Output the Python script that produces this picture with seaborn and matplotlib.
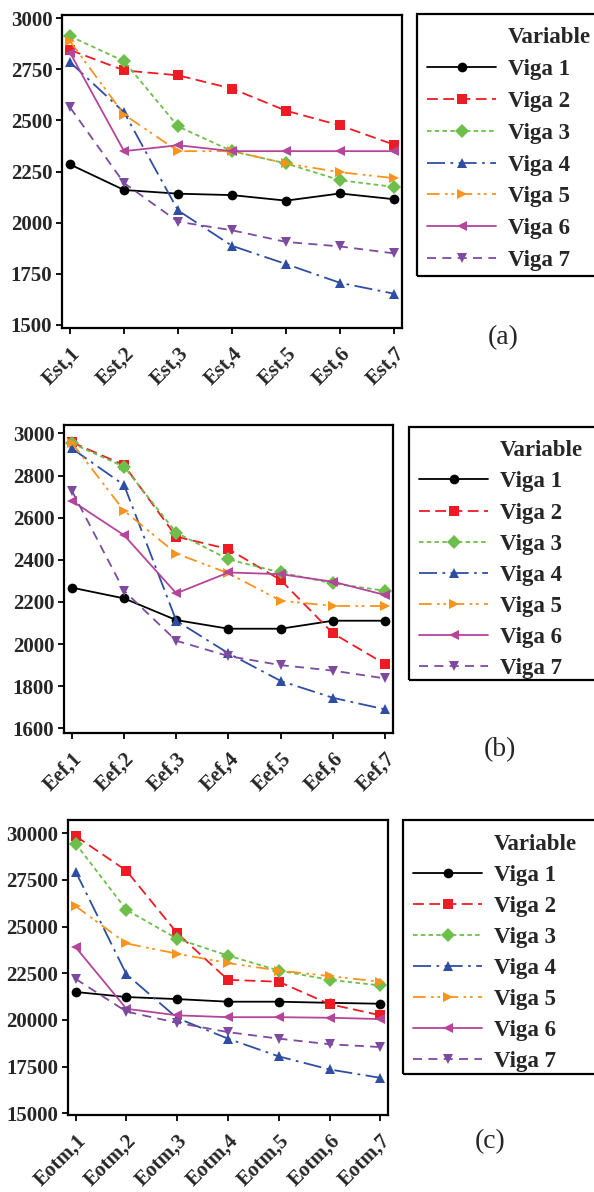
import numpy as np
import pandas as pd
import matplotlib
matplotlib.use("Agg")
import matplotlib.pyplot as plt
import seaborn as sns
from matplotlib.lines import Line2D
from matplotlib.patches import Rectangle

# ---------------- data ----------------
series = ["Viga 1", "Viga 2", "Viga 3", "Viga 4", "Viga 5", "Viga 6", "Viga 7"]

cats_a = ["Est,1", "Est,2", "Est,3", "Est,4", "Est,5", "Est,6", "Est,7"]
vals_a = {
    "Viga 1": [2285, 2160, 2142, 2135, 2108, 2143, 2115],
    "Viga 2": [2845, 2745, 2721, 2656, 2548, 2476, 2382],
    "Viga 3": [2912, 2790, 2471, 2350, 2290, 2208, 2175],
    "Viga 4": [2785, 2540, 2060, 1887, 1798, 1706, 1653],
    "Viga 5": [2887, 2529, 2350, 2350, 2290, 2247, 2218],
    "Viga 6": [2831, 2350, 2379, 2350, 2350, 2350, 2350],
    "Viga 7": [2564, 2194, 2005, 1963, 1906, 1884, 1850],
}

cats_b = ["Eef,1", "Eef,2", "Eef,3", "Eef,4", "Eef,5", "Eef,6", "Eef,7"]
vals_b = {
    "Viga 1": [2268, 2217, 2114, 2073, 2073, 2111, 2111],
    "Viga 2": [2958, 2850, 2510, 2451, 2304, 2051, 1905],
    "Viga 3": [2953, 2842, 2529, 2402, 2340, 2288, 2253],
    "Viga 4": [2929, 2755, 2111, 1956, 1825, 1745, 1690],
    "Viga 5": [2956, 2633, 2430, 2336, 2206, 2181, 2181],
    "Viga 6": [2680, 2517, 2241, 2340, 2332, 2296, 2233],
    "Viga 7": [2728, 2253, 2016, 1943, 1900, 1874, 1837],
}

cats_c = ["Eotm,1", "Eotm,2", "Eotm,3", "Eotm,4", "Eotm,5", "Eotm,6", "Eotm,7"]
vals_c = {
    "Viga 1": [21500, 21230, 21120, 20980, 20980, 20920, 20870],
    "Viga 2": [29850, 28000, 24650, 22150, 22050, 20850, 20250],
    "Viga 3": [29450, 25900, 24350, 23450, 22650, 22150, 21850],
    "Viga 4": [27950, 22450, 20100, 19000, 18050, 17350, 16900],
    "Viga 5": [26100, 24100, 23550, 23050, 22650, 22350, 22050],
    "Viga 6": [23900, 20600, 20250, 20150, 20150, 20120, 20050],
    "Viga 7": [22200, 20450, 19850, 19350, 19000, 18700, 18550],
}

yticks_a = [1500, 1750, 2000, 2250, 2500, 2750, 3000]
yticks_b = [1600, 1800, 2000, 2200, 2400, 2600, 2800, 3000]
yticks_c = [15000, 17500, 20000, 22500, 25000, 27500, 30000]
panel_labels = ["(a)", "(b)", "(c)"]

# ---------------- styles ----------------
palette = {"Viga 1": "#000000", "Viga 2": "#ED1C24", "Viga 3": "#6DBE4B",
           "Viga 4": "#2E4EA2", "Viga 5": "#F7941D", "Viga 6": "#B5449B",
           "Viga 7": "#7D4A9F"}
markers = {"Viga 1": "o", "Viga 2": "s", "Viga 3": "D", "Viga 4": "^",
           "Viga 5": ">", "Viga 6": "<", "Viga 7": "v"}
dashes = {"Viga 1": "", "Viga 2": (6, 3), "Viga 3": (2.5, 1.8),
          "Viga 4": (10, 3, 1.5, 3), "Viga 5": (7, 3, 1.5, 2, 1.5, 3),
          "Viga 6": "", "Viga 7": (5, 3.5)}

sns.set_theme(style="white")
plt.rcParams["font.family"] = ["Liberation Serif", "DejaVu Serif"]
plt.rcParams["font.weight"] = "bold"

W, H = 594, 1192
fig = plt.figure(figsize=(W / 100, H / 100), dpi=100)


def fr(left, top, right, bottom):
    return [left / W, 1 - bottom / H, (right - left) / W, (bottom - top) / H]


# axes rect, legend anchor (x, y), legend frame (left, top, bottom), label pos, labelspacing
panels = [
    (cats_a, vals_a, yticks_a, (1485, 3016), fr(62, 15, 402, 328), (417, 17), (417, 14, 276), (503, 338), 0.47),
    (cats_b, vals_b, yticks_b, (1578, 3040), fr(64, 425, 393, 733), (409, 430), (409, 427, 680), (500, 750), 0.44),
    (cats_c, vals_c, yticks_c, (14910, 30714), fr(68, 820, 388, 1115), (403, 824), (403, 820, 1074), (490, 1142), 0.43),
]

for i, (cats, vals, yt, ylim, rect, legpos, frame, labpos, lsp) in enumerate(panels):
    rows = []
    for s in series:
        for c, v in zip(cats, vals[s]):
            rows.append({"x": c, "y": v, "Variable": s})
    df = pd.DataFrame(rows)
    ax = fig.add_axes(rect)
    sns.lineplot(data=df, x="x", y="y", hue="Variable", style="Variable",
                 palette=palette, markers=markers, dashes=dashes,
                 hue_order=series, style_order=series, sort=False,
                 linewidth=1.3, markersize=7, markeredgewidth=0,
                 ax=ax, legend=True)
    handles, labels = ax.get_legend_handles_labels()
    ax.get_legend().remove()
    ax.set_xlim(-0.15, 6.15)
    ax.set_ylim(*ylim)
    ax.set_yticks(yt)
    ax.set_yticklabels([str(t) for t in yt], fontsize=15, fontweight="bold")
    ax.set_xticks(range(len(cats)))
    ax.set_xticklabels(cats, fontsize=15, fontweight="bold", rotation=45,
                       ha="right", rotation_mode="anchor")
    ax.set_xlabel("")
    ax.set_ylabel("")
    for sp in ax.spines.values():
        sp.set_color("black")
        sp.set_linewidth(1.6)
    ax.tick_params(axis="both", which="both", direction="out", length=4,
                   width=1.3, color="black", left=True, bottom=True, pad=3)
    ax.tick_params(axis="x", pad=7)

    # legend frame extending past the right edge, as in the reference
    fl, ft, fb = frame
    fig.patches.append(Rectangle((fl / W, 1 - fb / H), (W + 20 - fl) / W, (fb - ft) / H,
                                 transform=fig.transFigure, fill=False,
                                 edgecolor="black", linewidth=1.6, clip_on=False))
    blank = Line2D([], [], linestyle="none", marker="")
    leg = fig.legend([blank] + handles, ["Variable"] + labels,
                     loc="upper left",
                     bbox_to_anchor=(legpos[0] / W, 1 - legpos[1] / H),
                     borderaxespad=0, frameon=False,
                     prop={"family": "Liberation Serif", "weight": "bold", "size": 16.5},
                     handlelength=3.0, handletextpad=0.5, labelspacing=lsp,
                     borderpad=0.45)
    fig.text(labpos[0] / W, 1 - labpos[1] / H, panel_labels[i],
             ha="center", va="center", fontsize=20, fontweight="normal",
             family="Liberation Serif")

fig.savefig("out.png", dpi=100)
